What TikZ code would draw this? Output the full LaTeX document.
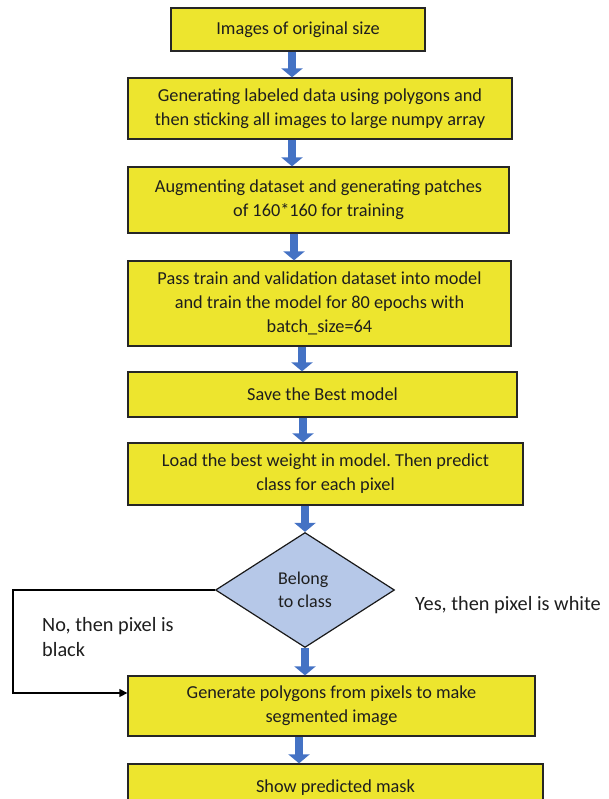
\documentclass[tikz,border=0pt]{standalone}
\usepackage{fontspec}
\setmainfont{Carlito}
\frenchspacing
\usetikzlibrary{shapes.geometric,arrows.meta}
\definecolor{boxfill}{RGB}{237,229,46}
\definecolor{diafill}{RGB}{182,200,232}
\definecolor{flowblue}{RGB}{68,114,196}
\definecolor{inkgray}{RGB}{30,30,30}
\tikzset{
  stepbox/.style={draw=black!85, line width=1.3pt, fill=boxfill, inner sep=0pt,
    align=center, text=inkgray, font=\fontsize{18.3}{24}\selectfont},
  decision/.style={diamond, draw=black!90, line width=1.2pt, fill=diafill, inner sep=0pt,
    align=left, text=inkgray, font=\fontsize{18}{23}\selectfont},
  flow/.style={draw=flowblue, line width=8.5pt,
    -{Triangle[width=21pt,length=9pt]}, shorten >=0pt},
  loopline/.style={draw=black, line width=1.4pt, -{Triangle[width=8pt,length=8pt]}},
  note/.style={align=left, anchor=west, text=inkgray, inner sep=0pt,
    font=\fontsize{20.3}{25}\selectfont}
}
\begin{document}
\begin{tikzpicture}[x=1pt,y=-1pt]
\useasboundingbox (0,0) rectangle (608,799);
\clip (0,0) rectangle (608,799);

% process steps
\node[stepbox, minimum width=254pt, minimum height=43pt] (b1) at (298,29.5) {Images of original size};
\node[stepbox, minimum width=384pt, minimum height=61pt] (b2) at (320,108.5)
  {Generating labeled data using polygons and\\then sticking all images to large numpy array};
\node[stepbox, minimum width=381pt, minimum height=66pt] (b3) at (318.5,200)
  {Augmenting dataset and generating patches\\of 160*160 for training};
\node[stepbox, minimum width=383pt, minimum height=85pt] (b4) at (319.5,303.5)
  {Pass train and validation dataset into model\\and train the model for 80 epochs with\\batch\_size=64};
\node[stepbox, minimum width=389pt, minimum height=45pt] (b5) at (322.5,394.5) {Save the Best model};
\node[stepbox, minimum width=395pt, minimum height=62pt] (b6) at (325.5,474)
  {Load the best weight in model. Then predict\\class for each pixel};
\node[decision, minimum width=179pt, minimum height=115pt] (d) at (305,590)
  {Belong\\to class};
\node[stepbox, minimum width=407pt, minimum height=60pt] (b8) at (331.5,706)
  {Generate polygons from pixels to make\\segmented image};
\node[stepbox, minimum width=415pt, minimum height=50pt, text depth=0pt] (b9) at (335.5,789)
  {\raisebox{6pt}{Show predicted mask}};

% branch labels
\node[note] (yes) at (415,605) {Yes, then pixel is white};
\node[note] (no) at (42,637) {No, then pixel is\\black};

% main flow
\draw[flow] (b1.south -| 292,0) -- (b2.north -| 292,0);
\draw[flow] (b2.south -| 292,0) -- (b3.north -| 292,0);
\draw[flow] (b3.south -| 294,0) -- (b4.north -| 294,0);
\draw[flow] (b4.south -| 302,0) -- (b5.north -| 302,0);
\draw[flow] (b5.south -| 303,0) -- (b6.north -| 303,0);
\draw[flow] (b6.south -| d.north) -- (d.north);
\draw[flow] (d.south) -- (b8.north -| d.south);
\draw[flow] (b8.south -| 299,0) -- (b9.north -| 299,0);

% "no" branch around the left side
\coordinate (noturn) at (13,590);
\coordinate (noend) at (13,693);
\draw[loopline] (d.west) -- (noturn) -- (noend) -- (b8.west |- noend);
\end{tikzpicture}
\end{document}
